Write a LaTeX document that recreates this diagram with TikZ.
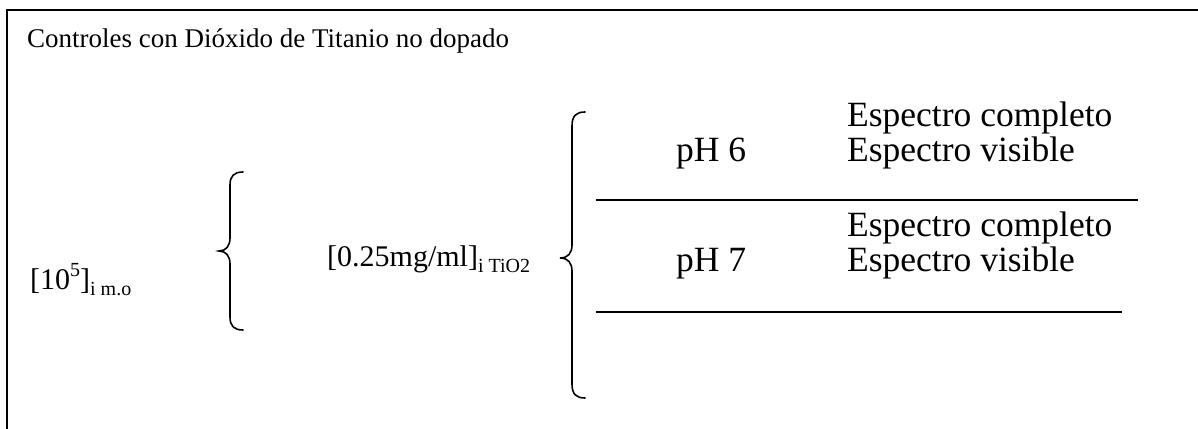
\documentclass[tikz,border=0pt]{standalone}
\usepackage{fontspec}
\setmainfont{Liberation Serif}
\newcommand\titlesize{\fontsize{27}{32}\selectfont}
\newcommand\bodysize{\fontsize{30}{36}\selectfont}
\newcommand\specsize{\fontsize{35.5}{42}\selectfont}
\newcommand\smallsize{\fontsize{20}{24}\selectfont}
\newcommand\upidx[1]{\raisebox{0.42em}{\smallsize #1}}
\newcommand\lowidx[1]{\raisebox{-0.2em}{\smallsize #1}}
\tikzset{
  txt/.style={inner sep=0pt, anchor=base west, font=\bodysize},
  spec/.style={txt, font=\specsize},
  frame/.style={line width=2pt},
  rule/.style={line width=1.6pt},
  brace/.style={line width=1.6pt, line cap=round}
}
\begin{document}
\begin{tikzpicture}[x=1pt,y=-1pt]
\useasboundingbox (0,0) rectangle (1198,428);
% open frame: left and top edges only
\draw[frame] (7,430) -- (7,10) -- (1200,10);
% heading
\node[txt, font=\titlesize] (title) at (27,48) {Controles con Dióxido de Titanio no dopado};
% concentrations
\node[txt] (mo) at (30,289) {[10\upidx{5}]\lowidx{i m.o}};
\node[txt] (tio) at (327,266) {[0.25mg/ml]\lowidx{i TiO2}};
% first brace
\draw[brace] (243,172) .. controls (234,172) and (230,176) .. (230,185) -- (230,238)
  .. controls (230,246) and (226,251) .. (219,251)
  .. controls (226,251) and (230,256) .. (230,264) -- (230,317)
  .. controls (230,326) and (234,330) .. (243,330);
% second brace
\draw[brace] (585,112) .. controls (576,112) and (572,116) .. (572,126) -- (572,245)
  .. controls (572,253) and (568,258) .. (560,258)
  .. controls (568,258) and (572,263) .. (572,271) -- (572,384)
  .. controls (572,394) and (576,398) .. (585,398);
% pH 6 group
\node[spec] (ph6) at (676,161) {pH 6};
\node[spec] (ec6) at (847,126) {Espectro completo};
\node[spec] (ev6) at (847,161) {Espectro visible};
\coordinate (r1a) at (596,200);
\coordinate (r1b) at (1138,200);
\draw[rule] (r1a) -- (r1b);
% pH 7 group
\node[spec] (ph7) at (676,271) {pH 7};
\node[spec] (ec7) at (847,236) {Espectro completo};
\node[spec] (ev7) at (847,271) {Espectro visible};
\coordinate (r2a) at (596,312);
\coordinate (r2b) at (1122,312);
\draw[rule] (r2a) -- (r2b);
\end{tikzpicture}
\end{document}
